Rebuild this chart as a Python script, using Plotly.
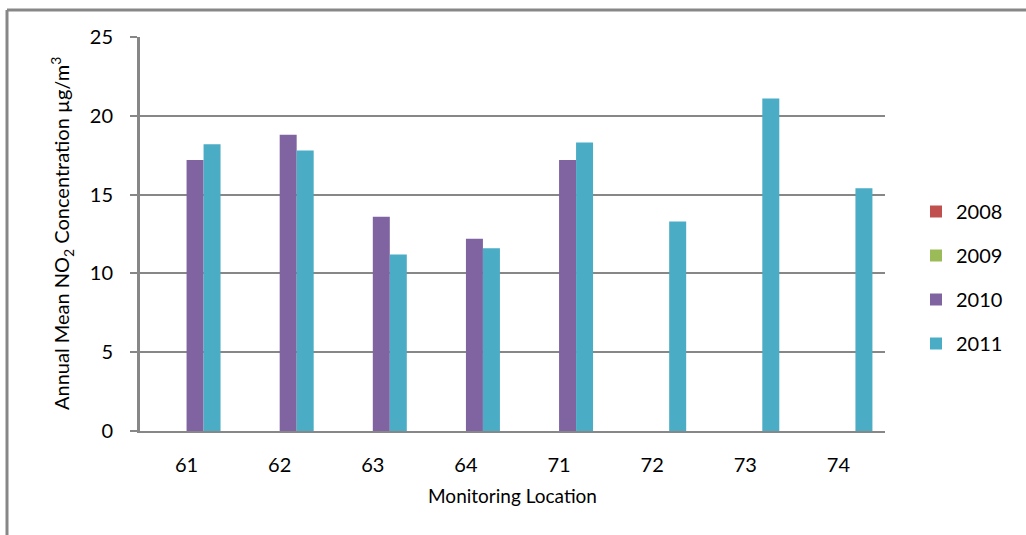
import plotly.graph_objects as go

# Monitoring locations and annual mean NO2 (µg/m³) per year
locations = ["61", "62", "63", "64", "71", "72", "73", "74"]
years = ["2008", "2009", "2010", "2011"]
no2_2008 = [None, None, None, None, None, None, None, None]
no2_2009 = [None, None, None, None, None, None, None, None]
no2_2010 = [17.2, 18.8, 13.6, 12.2, 17.2, None, None, None]
no2_2011 = [18.2, 17.8, 11.2, 11.6, 18.3, 13.3, 21.1, 15.4]
y_ticks = [0, 5, 10, 15, 20, 25]

series = [no2_2008, no2_2009, no2_2010, no2_2011]
colors = ["#C0504D", "#9BBB59", "#8064A2", "#4BACC6"]

FONT = "Lato, 'Open Sans', sans-serif"
GRID = "#878787"

W, H = 1026, 535
ML, MR, MT, MB = 140, 141, 37, 104
PW, PH = W - ML - MR, H - MT - MB

fig = go.Figure()
for name, vals, col in zip(years, series, colors):
    fig.add_trace(go.Bar(
        x=locations, y=vals, name=name, marker_color=col,
        marker_line_width=0, legendgroup=name,
    ))


def px_x(p):
    return (p - ML) / PW


def px_y(p):
    return (H - MB - p) / PH


fig.update_layout(
    width=W, height=H,
    margin=dict(l=ML, r=MR, t=MT, b=MB, autoexpand=False),
    paper_bgcolor="white", plot_bgcolor="white",
    barmode="group", bargap=0.27, bargroupgap=0,
    font=dict(family=FONT, color="#000000"),
    showlegend=True,
    legend=dict(
        x=px_x(916), y=px_y(192), xanchor="left", yanchor="top",
        font=dict(size=20, family=FONT, color="#000000"),
        tracegroupgap=15, itemwidth=30, bgcolor="rgba(0,0,0,0)",
    ),
    xaxis=dict(
        type="category", showgrid=False, showline=True,
        linecolor=GRID, linewidth=2, ticks="",
        tickfont=dict(size=20, family=FONT, color="#000000"),
        ticklabelstandoff=15,
        title=dict(text="Monitoring Location",
                   font=dict(size=19, family=FONT, color="#000000"),
                   standoff=15),
    ),
    yaxis=dict(
        range=[0, 25], tickvals=y_ticks, showgrid=True,
        gridcolor=GRID, gridwidth=2, zeroline=False,
        showline=True, linecolor=GRID, linewidth=3,
        ticks="outside", ticklen=7, tickwidth=2, tickcolor=GRID,
        tickfont=dict(size=20, family=FONT, color="#000000"),
        ticklabelstandoff=13,
    ),
    annotations=[dict(
        text="Annual Mean NO<sub>2</sub> Concentration µg/m<sup>3</sup>",
        xref="paper", yref="paper", x=px_x(62), y=0.5,
        xanchor="center", yanchor="middle", textangle=-90, showarrow=False,
        font=dict(size=20, family=FONT, color="#000000"),
    )],
    shapes=[
        # chart frame (top and left edges)
        dict(type="line", xref="paper", yref="paper",
             x0=px_x(7), x1=px_x(W + 5), y0=px_y(10), y1=px_y(10),
             line=dict(color=GRID, width=3)),
        dict(type="line", xref="paper", yref="paper",
             x0=px_x(7), x1=px_x(7), y0=px_y(10), y1=px_y(H + 5),
             line=dict(color=GRID, width=3)),
    ],
)

fig.write_html("out.html")
